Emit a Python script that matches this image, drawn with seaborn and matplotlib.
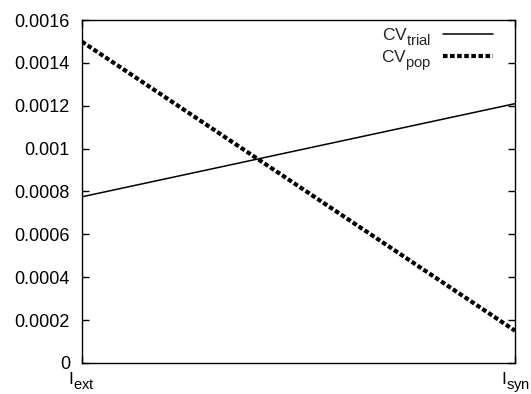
import matplotlib
matplotlib.use("Agg")
import matplotlib.pyplot as plt
import matplotlib._mathtext as mathtext_internal
import pandas as pd
import seaborn as sns
from matplotlib.ticker import FormatStrFormatter

# gnuplot-style subscripts: larger and a bit lower than mathtext's default
mathtext_internal.SHRINK_FACTOR = 0.85
for consts in (mathtext_internal.FontConstantsBase,
               mathtext_internal.DejaVuSansFontConstants):
    consts.sub1 = 0.55

# data
x_pos = [0, 1]
x_labels = [r'I$_\mathregular{ext}$', r'I$_\mathregular{syn}$']
cv_trial = [0.000775, 0.00121]
cv_pop = [0.0015, 0.00015]

df = pd.DataFrame({
    "x": x_pos * 2,
    "cv": cv_trial + cv_pop,
    "series": [r'CV$_\mathregular{trial}$'] * 2 + [r'CV$_\mathregular{pop}$'] * 2,
})

sns.set_style("ticks")
plt.rcParams['font.family'] = ['Liberation Sans', 'DejaVu Sans']
plt.rcParams['font.size'] = 13

fig = plt.figure(figsize=(5.31, 3.94), dpi=100)
ax = fig.add_axes([0.154, 0.079, 0.816, 0.870])

ax = sns.lineplot(data=df, x="x", y="cv", hue="series", style="series",
                  palette=["black", "black"], ax=ax, legend=False)

lines = ax.get_lines()
lines[0].set_linewidth(1.1)
lines[0].set_linestyle('-')
lines[1].set_linewidth(3.0)
lines[1].set_linestyle((0, (1.1, 0.6)))
lines[1].set_dash_capstyle('butt')
lines[0].set_label(r'CV$_\mathregular{trial}$')
lines[1].set_label(r'CV$_\mathregular{pop}$')

ax.set_xlim(0, 1)
ax.set_ylim(0, 0.0016)
ax.set_xticks(x_pos)
ax.set_xticklabels(x_labels)
ax.set_yticks([i * 0.0002 for i in range(9)])
ax.yaxis.set_major_formatter(FormatStrFormatter('%g'))
ax.set_xlabel("")
ax.set_ylabel("")

ax.tick_params(direction='in', length=5, width=1, colors='black',
               labelsize=13, right=True, top=True, left=True, bottom=True)
ax.tick_params(axis='x', pad=5.5, labelsize=12.5)
ax.tick_params(axis='y', pad=8.5)
for s in ax.spines.values():
    s.set_visible(True)
    s.set_color('black')
    s.set_linewidth(1)

leg = ax.legend(handles=lines, loc='upper right', bbox_to_anchor=(0.949, 0.982),
                frameon=False, markerfirst=False, handlelength=2.9,
                handletextpad=0.65, fontsize=12.5, borderaxespad=0,
                borderpad=0, labelspacing=0.0)

plt.savefig("out.png", dpi=100)
